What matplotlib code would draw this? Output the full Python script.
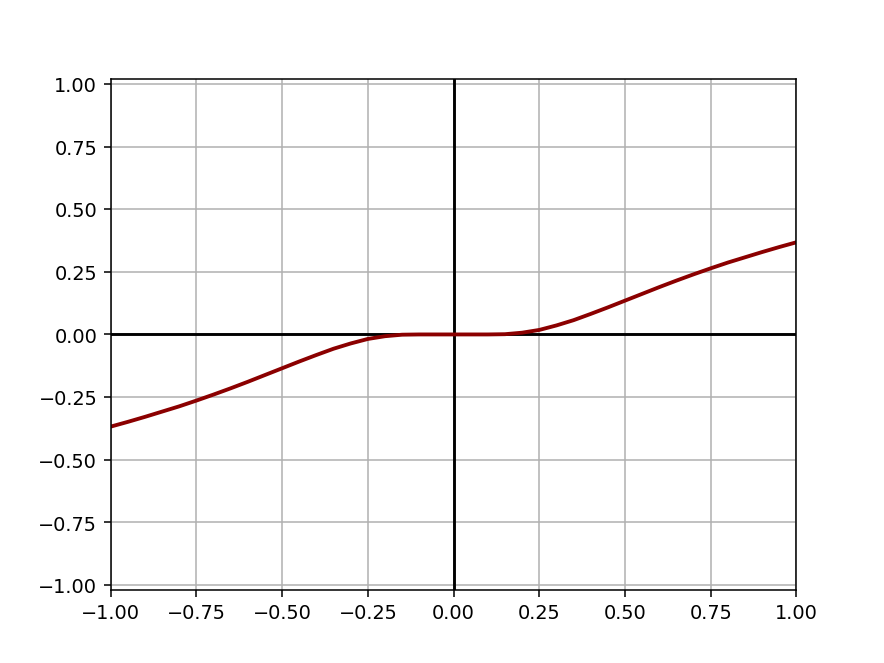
import matplotlib
matplotlib.use("Agg")
import matplotlib.pyplot as plt

# values (right half, the curve is odd)
x_pos = [0.0, 0.05, 0.10, 0.15, 0.20, 0.25, 0.30, 0.35, 0.40, 0.45, 0.50,
         0.55, 0.60, 0.65, 0.70, 0.75, 0.80, 0.85, 0.90, 0.95, 1.00]
y_pos = [0.0, 0.0, 0.0, 0.001, 0.007, 0.018, 0.036, 0.057, 0.082, 0.108, 0.135,
         0.162, 0.189, 0.215, 0.240, 0.264, 0.287, 0.308, 0.329, 0.349, 0.368]

x_neg = [-v for v in x_pos[::-1]]
y_neg = [-v for v in y_pos[::-1]]
xs = x_neg + x_pos[1:]
ys = y_neg + y_pos[1:]

fig = plt.figure(figsize=(6.4, 4.8), dpi=138.28)
ax = fig.add_subplot(111)
ax.grid(True, color="#b0b0b0")
ax.axhline(0, color="black", lw=1.5)
ax.axvline(0, color="black", lw=1.5)
ax.plot(xs, ys, color="darkred", lw=2)
ax.set_xlim(-1, 1)
ax.set_ylim(-1.02, 1.02)
ax.set_xticks([-1, -0.75, -0.5, -0.25, 0, 0.25, 0.5, 0.75, 1])
ax.set_yticks([-1, -0.75, -0.5, -0.25, 0, 0.25, 0.5, 0.75, 1])

fig.savefig("out.png")
